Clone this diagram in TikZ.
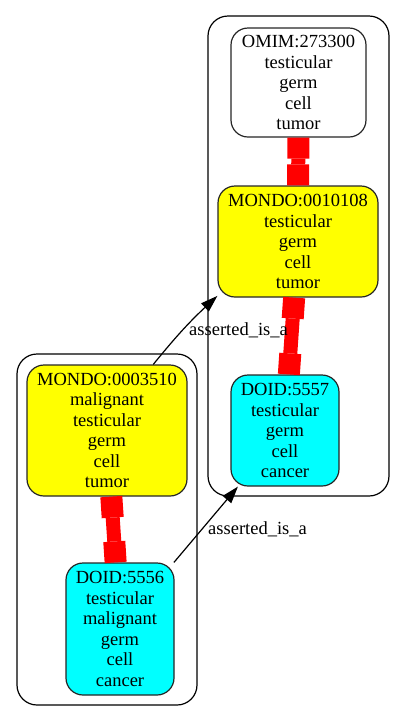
\documentclass[tikz,border=0pt]{standalone}
\usepackage{fontspec}
\setmainfont{Liberation Serif}
\usetikzlibrary{arrows.meta}
\definecolor{termyellow}{RGB}{255,255,0}
\definecolor{termcyan}{RGB}{0,255,255}
\definecolor{xrefred}{RGB}{255,0,0}

\begin{document}
\begin{tikzpicture}[x=1pt,y=-1pt,
  term/.style={draw=black!85,line width=1.2pt,rounded corners=17pt,inner sep=0pt,align=center,font=\fontsize{18.5}{20.5}\selectfont},
  xref/.style={draw=xrefred,line width=14pt,{Square[length=21pt,width=22pt,line width=0pt]}-{Square[length=21pt,width=22pt,line width=0pt]}},
  isa/.style={draw=black,line width=1.2pt,-{Triangle[length=17pt,width=11pt]}},
  lbl/.style={anchor=base,inner sep=0pt,font=\fontsize{18.5}{20.5}\selectfont}]

\useasboundingbox (0,0) rectangle (405,721);

% clusters
\draw[line width=1.2pt,rounded corners=20pt] (208,16) rectangle (389,496);
\draw[line width=1.2pt,rounded corners=20pt] (17,354) rectangle (197,705);

\node[term,fill=white,minimum width=135pt,minimum height=109pt] (omim) at (298.5,82.5) {OMIM:273300\\testicular\\germ\\cell\\tumor};
\node[term,fill=termyellow,minimum width=160pt,minimum height=111pt] (mondoA) at (298,241.5) {MONDO:0010108\\testicular\\germ\\cell\\tumor};
\node[term,fill=termcyan,minimum width=108pt,minimum height=111pt] (doidA) at (285,430.5) {DOID:5557\\testicular\\germ\\cell\\cancer};

\node[term,fill=termyellow,minimum width=160pt,minimum height=131pt] (mondoB) at (107,430.5) {MONDO:0003510\\malignant\\testicular\\germ\\cell\\tumor};
\node[term,fill=termcyan,minimum width=108pt,minimum height=132pt] (doidB) at (120,629) {DOID:5556\\testicular\\malignant\\germ\\cell\\cancer};

\draw[xref] (omim) -- (mondoA);
\draw[xref] (mondoA) -- (doidA);
\draw[xref] (mondoB) -- (doidB);

\draw[isa] (mondoB.55) to[bend left=4] (mondoA.214);
\draw[isa] (doidB.51) -- (doidA.230);

\node[lbl] (l1) at (238.5,335) {asserted\_is\_a};
\node[lbl] (l2) at (257.5,534) {asserted\_is\_a};

\end{tikzpicture}
\end{document}
